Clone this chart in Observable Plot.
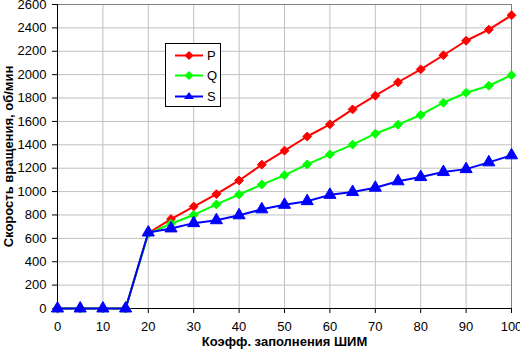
<!DOCTYPE html>
<html><head><meta charset="utf-8">
<script src="https://cdn.jsdelivr.net/npm/d3@7"></script>
<script src="https://cdn.jsdelivr.net/npm/@observablehq/plot@0.6"></script>
<style>
body{margin:0;background:#fff;font-family:"Liberation Sans",Arial,sans-serif;}
#wrap{position:relative;width:520px;height:357px;}
svg [aria-label="y-axis label"] text, svg [aria-label="x-axis label"] text{font-weight:bold;}
#legend{position:absolute;left:165px;top:43px;width:54px;height:62px;border:1px solid #000;background:#fff;font-size:13px;}
#legend .row{position:absolute;left:9px;height:20px;display:flex;align-items:center;}
#legend .row span{margin-left:3px;}
</style></head>
<body><div id="wrap"><div id="chart"></div><div id="legend"></div></div>
<script>
const duty = [0,5,10,15,20,25,30,35,40,45,50,55,60,65,70,75,80,85,90,95,100];
const P = [0,0,0,0,645,765,872,978,1095,1230,1350,1471,1575,1703,1820,1935,2045,2166,2290,2385,2508];
const Q = [0,0,0,0,640,725,800,890,975,1060,1140,1232,1318,1402,1495,1572,1655,1760,1845,1905,1995];
const S = [0,0,0,0,650,685,730,755,797,848,887,918,972,996,1033,1088,1124,1167,1192,1250,1310];
const seriesNames = ["P","Q","S"];
const seriesColors = ["#ff0000","#00ff00","#0000ff"];
const seriesSymbols = ["diamond2","diamond2","triangle"];
const yTicks = d3.range(0, 2601, 200);
const xTicks = d3.range(0, 101, 10);

const data = [];
[P,Q,S].forEach((vals,i)=>vals.forEach((v,j)=>data.push({series:seriesNames[i],x:duty[j],y:v})));

const marks = [
  Plot.gridX(xTicks,{stroke:"#c0c0c0",strokeOpacity:1}),
  Plot.gridY(yTicks,{stroke:"#c0c0c0",strokeOpacity:1}),
  Plot.ruleX([100],{stroke:"#808080"}),
  Plot.ruleY([2600],{stroke:"#808080"}),
  Plot.axisY({ticks:yTicks,tickSize:5,tickPadding:6,tickFormat:d=>String(d),label:"Скорость вращения, об/мин",labelAnchor:"center",labelArrow:"none",labelOffset:54}),
  Plot.axisX({ticks:xTicks,tickSize:5,tickPadding:8,tickFormat:d=>String(d),label:"Коэфф. заполнения ШИМ",labelAnchor:"center",labelArrow:"none",labelOffset:37}),
  Plot.ruleX([0],{stroke:"#000"}),
  Plot.ruleY([0],{stroke:"#000"})
];
seriesNames.forEach((s,i)=>{
  const d = data.filter(e=>e.series===s);
  marks.push(Plot.line(d,{x:"x",y:"y",stroke:seriesColors[i],strokeWidth:2}));
  marks.push(Plot.dot(d,{x:"x",y:"y",fill:seriesColors[i],stroke:seriesColors[i],strokeWidth:1,symbol:seriesSymbols[i],r:i===2?4.5:4}));
});

const chart = Plot.plot({
  width:520,height:357,
  marginLeft:57,marginRight:9,marginTop:4,marginBottom:49,
  style:{fontFamily:"'Liberation Sans',Arial,sans-serif",fontSize:"13px",color:"#000",background:"#fff"},
  x:{domain:[0,100]},
  y:{domain:[0,2600]},
  marks
});
document.getElementById("chart").appendChild(chart);

const leg = document.getElementById("legend");
seriesNames.forEach((s,i)=>{
  const row = document.createElement("div");
  row.className="row";
  row.style.top=(1+i*20.5)+"px";
  const sym = i===2 ? '<path d="M14,4 L19,11 L9,11 Z" fill="'+seriesColors[i]+'"/>' : '<path d="M14,4 L18.5,8.5 L14,13 L9.5,8.5 Z" fill="'+seriesColors[i]+'"/>';
  row.innerHTML='<svg width="29" height="17"><line x1="0" x2="28" y1="8.5" y2="8.5" stroke="'+seriesColors[i]+'" stroke-width="2"/>'+sym+'</svg><span>'+s+'</span>';
  leg.appendChild(row);
});
</script></body></html>
